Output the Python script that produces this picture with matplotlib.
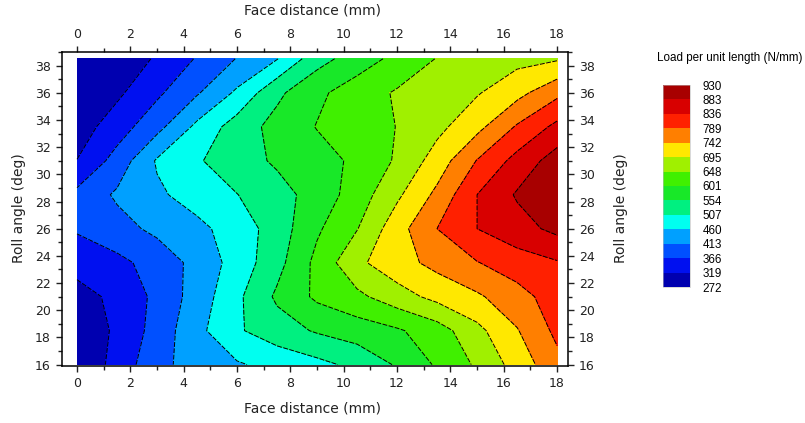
import numpy as np
import matplotlib
matplotlib.use('Agg')
from matplotlib import pyplot as plt
from matplotlib.ticker import MultipleLocator

# grid
face_mm = [0, 1.5, 3, 4.5, 6, 7.5, 9, 10.5, 12, 13.5, 15, 16.5, 18]
roll_deg = [16, 18.5, 21, 23.5, 26, 28.5, 31, 33.5, 36, 38.5]

load_16 = [280, 335, 400, 432, 455, 475, 494, 519, 559, 607, 655, 714, 775]
load_18_5 = [285, 327, 384, 447, 501, 533, 559, 577, 595, 626, 682, 739, 800]
load_21 = [305, 328, 378, 433, 497, 562, 610, 637, 675, 709, 735, 771, 812]
load_23_5 = [333, 354, 384, 428, 479, 538, 614, 685, 724, 756, 787, 814, 832]
load_26 = [372, 396, 424, 448, 481, 529, 594, 646, 723, 789, 836, 865, 895]
load_28_5 = [378, 420, 452, 480, 506, 536, 573, 623, 686, 753, 836, 888, 925]
load_31 = [320, 384, 465, 502, 533, 561, 583, 610, 654, 716, 791, 852, 905]
load_33_5 = [296, 343, 398, 471, 529, 570, 603, 626, 649, 682, 728, 794, 848]
load_36 = [280, 310, 357, 408, 468, 544, 591, 625, 653, 672, 691, 727, 777]
load_38_5 = [273, 297, 323, 370, 415, 458, 536, 577, 614, 650, 665, 681, 690]

levels = [272, 319, 366, 413, 460, 507, 554, 601, 648, 695, 742, 789, 836, 883, 930]
band_colors = ['#0000b0', '#0010f0', '#0050ff', '#00a0ff', '#00fff0', '#00f080',
               '#18e828', '#40f000', '#a0f000', '#ffe800', '#ff7f00', '#ff2000',
               '#d80000', '#a80000']

Z = np.array([load_16, load_18_5, load_21, load_23_5, load_26,
              load_28_5, load_31, load_33_5, load_36, load_38_5])

W, H = 805, 423
fig = plt.figure(figsize=(W / 100, H / 100), dpi=100)
ax = fig.add_axes([62 / W, 1 - 365.7 / H, 506 / W, 313.7 / H])

cf = ax.contourf(face_mm, roll_deg, Z, levels=levels, colors=band_colors)
ax.contour(face_mm, roll_deg, Z, levels=levels[1:-1], colors='k',
           linewidths=0.7, linestyles=[(0, (5, 1.5))])

ax.set_xlim(-0.5625, 18.41)
ax.set_ylim(15.92, 39.0)
ax.xaxis.set_major_locator(MultipleLocator(2))
ax.xaxis.set_minor_locator(MultipleLocator(1))
ax.yaxis.set_major_locator(MultipleLocator(2))
ax.yaxis.set_minor_locator(MultipleLocator(1))
ax.tick_params(which='both', direction='out', top=True, right=True,
               labeltop=True, labelright=True, labelsize=9, colors='#222222')
ax.tick_params(which='major', length=4.5, width=1)
ax.tick_params(which='minor', length=3, width=1)
for s in ax.spines.values():
    s.set_linewidth(1.1)

fig.text(312 / W, 1 - 11 / H, 'Face distance (mm)', ha='center', va='center',
         fontsize=10, color='#222222')
fig.text(312 / W, 1 - 408 / H, 'Face distance (mm)', ha='center', va='center',
         fontsize=10, color='#222222')
fig.text(19 / W, 1 - 208 / H, 'Roll angle (deg)', ha='center', va='center',
         rotation=90, fontsize=10, color='#222222')
fig.text(621 / W, 1 - 208 / H, 'Roll angle (deg)', ha='center', va='center',
         rotation=90, fontsize=10, color='#222222')

# legend bar
cax = fig.add_axes([663 / W, 1 - 287 / H, 27 / W, 202 / H])
cb = fig.colorbar(cf, cax=cax, ticks=levels)
cb.outline.set_linewidth(0.4)
cb.outline.set_edgecolor('#bbbbbb')
cax.tick_params(length=0, pad=9, labelsize=8.4)
for t in cax.get_yticklabels():
    t.set_family('Liberation Sans')
fig.text(730 / W, 1 - 58 / H, 'Load per unit length (N/mm)', ha='center',
         va='center', fontsize=8.4, family='Liberation Sans')

fig.savefig('out.png', dpi=100)
